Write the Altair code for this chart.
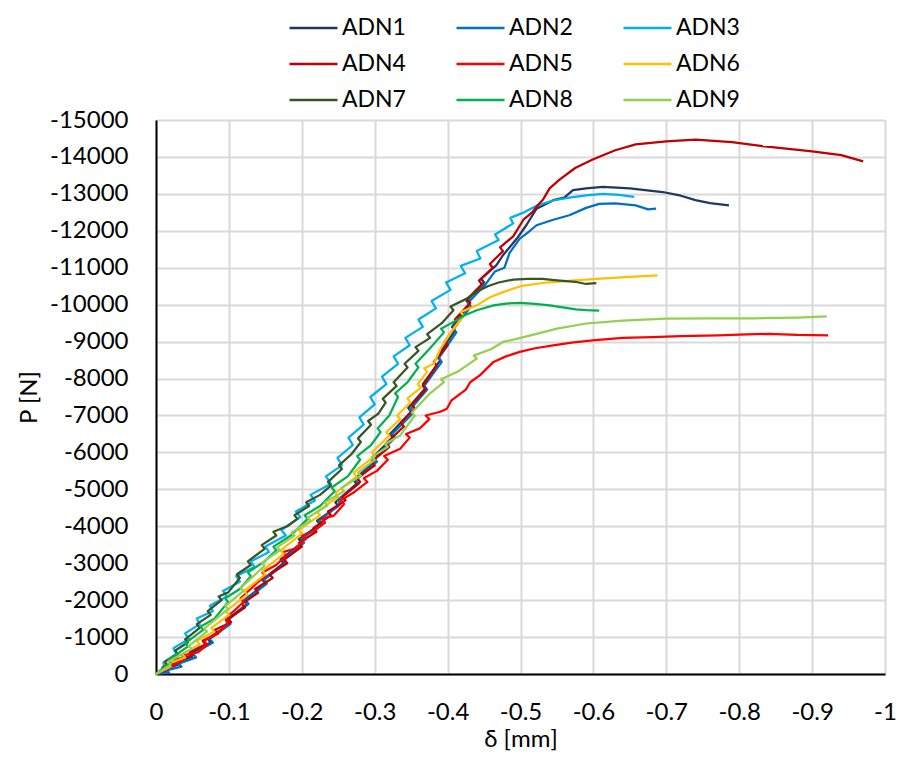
import altair as alt
import pandas as pd

# ---- data (δ in mm, P in N) ----
adn1_x = [0, -0.015, -0.012, -0.030, -0.027, -0.050, -0.046, -0.075, -0.071, -0.100, -0.096, -0.125, -0.121, -0.150, -0.146, -0.175, -0.171, -0.200, -0.196, -0.225, -0.221, -0.250, -0.246, -0.275, -0.271, -0.300, -0.296, -0.325, -0.321, -0.350, -0.346, -0.370, -0.366, -0.390, -0.386, -0.410, -0.406, -0.430, -0.426, -0.450, -0.446, -0.467, -0.476, -0.495, -0.508, -0.522, -0.545, -0.560, -0.572, -0.590, -0.613, -0.650, -0.695, -0.720, -0.740, -0.760, -0.786]
adn1_p = [0, -60, -120, -250, -330, -450, -540, -850, -950, -1350, -1450, -1900, -2000, -2450, -2550, -3000, -3100, -3550, -3650, -4050, -4150, -4550, -4650, -5150, -5250, -5750, -5850, -6400, -6500, -7100, -7200, -7750, -7850, -8500, -8600, -9300, -9400, -10000, -10100, -10600, -10700, -11070, -11340, -11790, -12150, -12600, -12830, -12900, -13100, -13150, -13190, -13150, -13050, -12950, -12830, -12750, -12690]

adn2_x = [0, -0.018, -0.014, -0.035, -0.031, -0.055, -0.051, -0.078, -0.074, -0.102, -0.098, -0.127, -0.123, -0.152, -0.148, -0.178, -0.174, -0.203, -0.199, -0.228, -0.224, -0.253, -0.249, -0.278, -0.274, -0.303, -0.299, -0.328, -0.324, -0.352, -0.348, -0.372, -0.368, -0.392, -0.388, -0.412, -0.408, -0.432, -0.428, -0.452, -0.465, -0.478, -0.485, -0.499, -0.510, -0.522, -0.545, -0.567, -0.590, -0.608, -0.630, -0.658, -0.675, -0.686]
adn2_p = [0, -40, -100, -200, -280, -450, -540, -850, -950, -1350, -1450, -1900, -2000, -2450, -2550, -3000, -3100, -3550, -3650, -4050, -4150, -4600, -4700, -5150, -5250, -5750, -5850, -6400, -6500, -7050, -7150, -7700, -7800, -8450, -8550, -9250, -9350, -9950, -10050, -10550, -10900, -11000, -11400, -11790, -11950, -12150, -12300, -12420, -12620, -12730, -12740, -12690, -12580, -12600]

adn3_x = [0, -0.012, -0.010, -0.028, -0.024, -0.045, -0.040, -0.060, -0.056, -0.078, -0.074, -0.097, -0.092, -0.115, -0.110, -0.135, -0.130, -0.155, -0.150, -0.178, -0.172, -0.198, -0.192, -0.218, -0.212, -0.240, -0.233, -0.255, -0.249, -0.270, -0.264, -0.285, -0.279, -0.300, -0.294, -0.316, -0.310, -0.332, -0.326, -0.348, -0.342, -0.366, -0.360, -0.384, -0.378, -0.404, -0.398, -0.424, -0.418, -0.445, -0.440, -0.470, -0.465, -0.490, -0.486, -0.505, -0.522, -0.545, -0.567, -0.590, -0.613, -0.635, -0.656]
adn3_p = [0, -150, -300, -550, -700, -950, -1100, -1350, -1500, -1700, -1850, -2100, -2250, -2500, -2650, -2900, -3050, -3300, -3450, -3750, -3900, -4250, -4400, -4700, -4850, -5150, -5350, -5650, -5850, -6200, -6400, -6750, -6950, -7300, -7500, -7850, -8050, -8400, -8600, -8900, -9100, -9400, -9600, -9900, -10100, -10400, -10600, -10850, -11050, -11250, -11450, -11750, -11900, -12200, -12350, -12500, -12680, -12820, -12900, -12960, -13000, -12970, -12920]

adn4_x = [0, -0.012, -0.009, -0.028, -0.025, -0.050, -0.046, -0.068, -0.064, -0.085, -0.081, -0.103, -0.099, -0.122, -0.118, -0.140, -0.136, -0.160, -0.156, -0.180, -0.176, -0.200, -0.196, -0.220, -0.216, -0.240, -0.236, -0.260, -0.256, -0.280, -0.276, -0.300, -0.296, -0.320, -0.316, -0.340, -0.336, -0.355, -0.351, -0.370, -0.366, -0.385, -0.381, -0.400, -0.396, -0.414, -0.410, -0.431, -0.427, -0.447, -0.443, -0.462, -0.458, -0.476, -0.472, -0.490, -0.504, -0.516, -0.524, -0.531, -0.540, -0.554, -0.575, -0.599, -0.630, -0.658, -0.700, -0.740, -0.790, -0.832, -0.900, -0.940, -0.970]
adn4_p = [0, -100, -180, -300, -380, -500, -600, -800, -900, -1100, -1200, -1400, -1500, -1800, -1900, -2200, -2300, -2600, -2700, -3000, -3100, -3450, -3550, -3850, -3950, -4300, -4400, -4700, -4800, -5200, -5300, -5650, -5750, -6150, -6250, -6700, -6800, -7200, -7300, -7700, -7800, -8350, -8450, -8900, -9000, -9500, -9600, -10050, -10150, -10550, -10650, -11000, -11100, -11450, -11550, -11850, -12300, -12500, -12700, -12850, -13150, -13390, -13700, -13930, -14180, -14340, -14420, -14470, -14400, -14290, -14150, -14050, -13880]

adn5_x = [0, -0.015, -0.012, -0.030, -0.040, -0.036, -0.058, -0.070, -0.066, -0.085, -0.099, -0.095, -0.112, -0.120, -0.116, -0.140, -0.150, -0.146, -0.165, -0.178, -0.174, -0.190, -0.205, -0.200, -0.215, -0.232, -0.228, -0.244, -0.258, -0.253, -0.270, -0.290, -0.285, -0.303, -0.318, -0.313, -0.335, -0.348, -0.343, -0.362, -0.375, -0.370, -0.390, -0.399, -0.405, -0.415, -0.425, -0.431, -0.445, -0.463, -0.480, -0.499, -0.520, -0.545, -0.570, -0.599, -0.640, -0.681, -0.720, -0.772, -0.800, -0.840, -0.880, -0.922]
adn5_p = [0, -150, -100, -300, -420, -500, -590, -800, -900, -1100, -1400, -1500, -1800, -1950, -2050, -2490, -2650, -2750, -2950, -3200, -3300, -3390, -3650, -3750, -3850, -4100, -4200, -4290, -4600, -4700, -4900, -5200, -5300, -5500, -5800, -5900, -6100, -6400, -6500, -6650, -6900, -7000, -7100, -7180, -7400, -7550, -7700, -7900, -8100, -8450, -8600, -8720, -8820, -8900, -8970, -9030, -9100, -9120, -9150, -9170, -9190, -9210, -9180, -9170]

adn6_x = [0, -0.020, -0.017, -0.040, -0.036, -0.060, -0.056, -0.080, -0.076, -0.100, -0.096, -0.125, -0.121, -0.150, -0.146, -0.175, -0.171, -0.200, -0.196, -0.225, -0.221, -0.250, -0.246, -0.275, -0.271, -0.300, -0.296, -0.320, -0.316, -0.335, -0.331, -0.349, -0.345, -0.363, -0.359, -0.372, -0.368, -0.381, -0.390, -0.399, -0.410, -0.422, -0.418, -0.440, -0.458, -0.476, -0.500, -0.535, -0.570, -0.604, -0.650, -0.688]
adn6_p = [0, -200, -280, -450, -540, -800, -900, -1150, -1250, -1600, -1700, -2150, -2250, -2700, -2800, -3250, -3350, -3800, -3900, -4300, -4400, -4800, -4900, -5350, -5450, -5900, -6000, -6450, -6550, -6900, -7000, -7360, -7460, -7750, -7850, -8180, -8280, -8400, -8800, -9080, -9400, -9700, -9800, -9980, -10200, -10340, -10500, -10600, -10650, -10700, -10750, -10790]

adn7_x = [0, -0.015, -0.012, -0.030, -0.026, -0.044, -0.040, -0.060, -0.056, -0.075, -0.071, -0.090, -0.086, -0.099, -0.115, -0.111, -0.130, -0.126, -0.149, -0.145, -0.165, -0.161, -0.180, -0.194, -0.190, -0.210, -0.206, -0.225, -0.240, -0.236, -0.255, -0.251, -0.268, -0.281, -0.277, -0.295, -0.291, -0.305, -0.315, -0.311, -0.330, -0.326, -0.345, -0.341, -0.360, -0.356, -0.376, -0.372, -0.392, -0.408, -0.404, -0.425, -0.440, -0.455, -0.470, -0.490, -0.510, -0.530, -0.550, -0.575, -0.590, -0.604]
adn7_p = [0, -250, -330, -550, -630, -860, -940, -1250, -1350, -1600, -1700, -2000, -2100, -2210, -2600, -2700, -2950, -3050, -3390, -3490, -3750, -3850, -4000, -4200, -4300, -4550, -4650, -4850, -5100, -5200, -5550, -5650, -5950, -6280, -6380, -6750, -6850, -7050, -7350, -7450, -7800, -7900, -8300, -8400, -8750, -8850, -9100, -9200, -9500, -9850, -9950, -10150, -10350, -10500, -10600, -10680, -10700, -10700, -10660, -10620, -10560, -10580]

adn8_x = [0, -0.020, -0.017, -0.044, -0.040, -0.065, -0.061, -0.080, -0.099, -0.095, -0.115, -0.130, -0.126, -0.149, -0.165, -0.161, -0.185, -0.208, -0.204, -0.225, -0.245, -0.241, -0.263, -0.280, -0.276, -0.295, -0.308, -0.304, -0.320, -0.332, -0.328, -0.345, -0.360, -0.356, -0.375, -0.395, -0.391, -0.410, -0.422, -0.440, -0.463, -0.480, -0.499, -0.520, -0.540, -0.560, -0.576, -0.590, -0.608]
adn8_p = [0, -300, -380, -750, -830, -1200, -1280, -1500, -1950, -2050, -2300, -2650, -2750, -3050, -3350, -3450, -3750, -4200, -4300, -4550, -4950, -5050, -5350, -5800, -5900, -6200, -6550, -6650, -7000, -7500, -7600, -7900, -8300, -8400, -8800, -9250, -9350, -9550, -9700, -9850, -9980, -10030, -10050, -10020, -9980, -9920, -9870, -9850, -9840]

adn9_x = [0, -0.020, -0.017, -0.049, -0.045, -0.070, -0.066, -0.099, -0.095, -0.120, -0.116, -0.149, -0.145, -0.170, -0.166, -0.190, -0.186, -0.212, -0.208, -0.235, -0.231, -0.258, -0.254, -0.281, -0.277, -0.300, -0.296, -0.318, -0.314, -0.335, -0.355, -0.351, -0.376, -0.395, -0.391, -0.415, -0.440, -0.436, -0.460, -0.476, -0.500, -0.522, -0.550, -0.590, -0.640, -0.699, -0.760, -0.820, -0.880, -0.920]
adn9_p = [0, -250, -330, -680, -760, -1150, -1230, -1760, -1840, -2250, -2330, -2930, -3010, -3350, -3430, -3750, -3830, -4150, -4230, -4560, -4640, -4950, -5030, -5370, -5450, -5800, -5880, -6150, -6230, -6460, -7000, -7080, -7600, -7900, -7980, -8200, -8540, -8620, -8800, -8990, -9100, -9210, -9350, -9490, -9570, -9620, -9630, -9630, -9650, -9680]

series_names = ["ADN1", "ADN2", "ADN3", "ADN4", "ADN5", "ADN6", "ADN7", "ADN8", "ADN9"]
series_colors = ["#203864", "#0070C0", "#00B0F0", "#C00000", "#FF0000", "#FFC000", "#375623", "#00B050", "#92D050"]
x_ticks = [0, -0.1, -0.2, -0.3, -0.4, -0.5, -0.6, -0.7, -0.8, -0.9, -1]
y_ticks = [0, -1000, -2000, -3000, -4000, -5000, -6000, -7000, -8000, -9000, -10000, -11000, -12000, -13000, -14000, -15000]

xs = [adn1_x, adn2_x, adn3_x, adn4_x, adn5_x, adn6_x, adn7_x, adn8_x, adn9_x]
ps = [adn1_p, adn2_p, adn3_p, adn4_p, adn5_p, adn6_p, adn7_p, adn8_p, adn9_p]

rows = []
for name, sx, sp in zip(series_names, xs, ps):
    for i, (a, b) in enumerate(zip(sx, sp)):
        rows.append({"series": name, "i": i, "d": a, "P": b})
df = pd.DataFrame(rows)

FONT = "Lato"

chart = alt.Chart(df).mark_line(strokeWidth=2.25, strokeJoin="round").encode(
    x=alt.X("d:Q",
            scale=alt.Scale(domain=[-1, 0], reverse=True, nice=False, zero=False),
            axis=alt.Axis(values=x_ticks, title="δ [mm]", labelFlush=False,
                          labelExpr="datum.value == 0 ? '0' : '-' + format(abs(datum.value), '~g')")),
    y=alt.Y("P:Q",
            scale=alt.Scale(domain=[-15000, 0], reverse=True, nice=False, zero=False),
            axis=alt.Axis(values=y_ticks, title="P [N]", labelFlush=False,
                          labelExpr="datum.value == 0 ? '0' : '-' + format(abs(datum.value), 'd')")),
    color=alt.Color("series:N",
                    scale=alt.Scale(domain=series_names, range=series_colors),
                    legend=alt.Legend(title=None, orient="none", legendX=132, legendY=-110,
                                      columns=3, direction="horizontal",
                                      symbolType="stroke", symbolSize=2304, symbolStrokeWidth=2.5,
                                      labelFontSize=23, labelFont=FONT, labelColor="#000000",
                                      labelOffset=3, columnPadding=49, rowPadding=0,
                                      clipHeight=36, padding=0)),
    order=alt.Order("i:Q"),
).properties(
    width=729,
    height=554,
    autosize=alt.AutoSizeParams(type="none"),
    padding={"left": 148, "top": 112, "right": 11, "bottom": 78},
).configure_view(
    stroke="transparent"
).configure_axis(
    labelFont=FONT, labelFontSize=24, labelColor="#000000",
    titleFont=FONT, titleFontSize=24, titleFontWeight="normal", titleColor="#000000",
    gridColor="#D9D9D9", gridWidth=2, gridOpacity=1,
    domainColor="#000000", domainWidth=2,
    ticks=False, tickSize=0,
).configure_axisX(
    labelPadding=26, titlePadding=3
).configure_axisY(
    labelPadding=28, titlePadding=8
)

chart.save("out.html", embed_options={"renderer": "svg", "actions": False})
